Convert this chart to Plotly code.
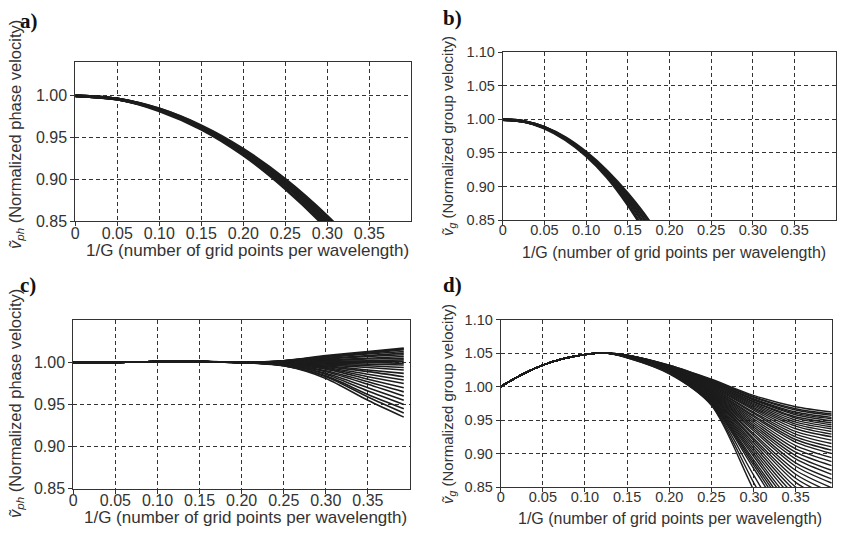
import plotly.graph_objects as go

W, H = 853, 535
# the page body keeps an 8px margin, so the figure is drawn 8px in from the corner
OFF = 8
FW, FH = W - 2 * OFF, H - 2 * OFF

# ---- data ----
X_TICKS = [0, 0.05, 0.10, 0.15, 0.20, 0.25, 0.30, 0.35]
X_TICK_TEXT = ["0", "0.05", "0.10", "0.15", "0.20", "0.25", "0.30", "0.35"]
Y_TICKS_PH = [0.85, 0.90, 0.95, 1.00]
Y_TICK_TEXT_PH = ["0.85", "0.90", "0.95", "1.00"]
Y_TICKS_G = [0.85, 0.90, 0.95, 1.00, 1.05, 1.10]
Y_TICK_TEXT_G = ["0.85", "0.90", "0.95", "1.00", "1.05", "1.10"]

# a) phase velocity, bundle of curves
A_X = [0, 0.05, 0.10, 0.15, 0.20, 0.25, 0.30, 0.35]
A_CURVES = [
    [1.000, 0.996, 0.984, 0.964, 0.936, 0.900, 0.856, 0.804],
    [1.000, 0.996, 0.984, 0.963, 0.934, 0.898, 0.852, 0.799],
    [1.000, 0.996, 0.983, 0.962, 0.933, 0.895, 0.849, 0.794],
    [1.000, 0.996, 0.983, 0.961, 0.931, 0.893, 0.845, 0.789],
    [1.000, 0.996, 0.982, 0.960, 0.929, 0.889, 0.841, 0.783],
]

# b) group velocity
B_X = [0, 0.025, 0.05, 0.075, 0.10, 0.125, 0.15, 0.175, 0.20]
B_CURVES = [
    [1.000, 0.997, 0.988, 0.973, 0.951, 0.923, 0.889, 0.849, 0.800],
    [1.000, 0.997, 0.988, 0.972, 0.949, 0.920, 0.884, 0.842, 0.792],
    [1.000, 0.997, 0.988, 0.971, 0.948, 0.917, 0.879, 0.834, 0.785],
    [1.000, 0.997, 0.987, 0.970, 0.946, 0.914, 0.873, 0.825, 0.776],
]

# c) phase velocity, optimized scheme
C_HEAD_X = [0, 0.05, 0.10, 0.15]
C_HEAD_Y = [1.000, 1.000, 1.001, 1.001]
C_TAIL_X = [0.20, 0.25, 0.30, 0.35, 0.3926]
C_TAILS = [
    [1.000, 1.002, 1.008, 1.013, 1.017],
    [1.000, 1.002, 1.007, 1.012, 1.016],
    [1.000, 1.002, 1.007, 1.011, 1.015],
    [1.000, 1.002, 1.006, 1.010, 1.013],
    [1.000, 1.001, 1.005, 1.008, 1.011],
    [1.000, 1.001, 1.004, 1.007, 1.009],
    [1.000, 1.001, 1.003, 1.005, 1.007],
    [1.000, 1.001, 1.002, 1.004, 1.005],
    [1.000, 1.000, 1.001, 1.002, 1.003],
    [1.000, 1.000, 1.001, 1.001, 1.001],
    [1.000, 1.000, 1.000, 1.000, 0.999],
    [1.000, 1.000, 0.999, 0.998, 0.997],
    [1.000, 1.000, 0.998, 0.996, 0.994],
    [1.000, 0.999, 0.997, 0.994, 0.991],
    [1.000, 0.999, 0.996, 0.991, 0.987],
    [1.000, 0.999, 0.995, 0.989, 0.983],
    [1.000, 0.999, 0.994, 0.986, 0.979],
    [1.000, 0.998, 0.993, 0.983, 0.975],
    [1.000, 0.998, 0.992, 0.980, 0.970],
    [1.000, 0.998, 0.990, 0.977, 0.965],
    [1.000, 0.997, 0.989, 0.974, 0.960],
    [1.000, 0.997, 0.987, 0.970, 0.955],
    [1.000, 0.997, 0.986, 0.966, 0.950],
    [1.000, 0.996, 0.984, 0.962, 0.945],
    [1.000, 0.996, 0.983, 0.959, 0.940],
    [1.000, 0.996, 0.981, 0.955, 0.935],
]

# d) group velocity, optimized scheme
D_HEAD_X = [0, 0.025, 0.05, 0.075, 0.10, 0.125]
D_HEAD_Y = [1.000, 1.018, 1.032, 1.042, 1.048, 1.050]
D_TAIL_X = [0.15, 0.20, 0.25, 0.30, 0.35, 0.3926]
D_TAILS = [
    [1.047, 1.032, 1.011, 0.987, 0.970, 0.962],
    [1.047, 1.032, 1.010, 0.985, 0.967, 0.959],
    [1.047, 1.031, 1.009, 0.984, 0.965, 0.957],
    [1.047, 1.031, 1.008, 0.982, 0.962, 0.954],
    [1.047, 1.031, 1.008, 0.981, 0.960, 0.952],
    [1.047, 1.030, 1.007, 0.980, 0.958, 0.949],
    [1.047, 1.030, 1.006, 0.978, 0.955, 0.946],
    [1.046, 1.030, 1.006, 0.977, 0.953, 0.943],
    [1.046, 1.030, 1.005, 0.975, 0.950, 0.940],
    [1.046, 1.029, 1.004, 0.973, 0.947, 0.937],
    [1.046, 1.029, 1.003, 0.971, 0.944, 0.933],
    [1.046, 1.029, 1.002, 0.969, 0.941, 0.929],
    [1.046, 1.029, 1.001, 0.967, 0.937, 0.925],
    [1.046, 1.028, 1.000, 0.965, 0.933, 0.920],
    [1.046, 1.028, 0.999, 0.962, 0.929, 0.915],
    [1.046, 1.028, 0.998, 0.960, 0.925, 0.910],
    [1.046, 1.028, 0.997, 0.957, 0.921, 0.905],
    [1.046, 1.027, 0.996, 0.955, 0.917, 0.900],
    [1.046, 1.027, 0.995, 0.952, 0.912, 0.894],
    [1.045, 1.027, 0.994, 0.949, 0.907, 0.888],
    [1.045, 1.027, 0.993, 0.946, 0.902, 0.882],
    [1.045, 1.026, 0.992, 0.943, 0.897, 0.875],
    [1.045, 1.026, 0.991, 0.940, 0.892, 0.869],
    [1.045, 1.026, 0.990, 0.937, 0.886, 0.862],
    [1.045, 1.026, 0.989, 0.934, 0.881, 0.856],
    [1.045, 1.025, 0.988, 0.930, 0.875, 0.849],
    [1.045, 1.025, 0.987, 0.927, 0.869, 0.842],
    [1.045, 1.025, 0.986, 0.923, 0.863, 0.835],
    [1.045, 1.025, 0.985, 0.920, 0.857, 0.828],
    [1.045, 1.024, 0.984, 0.916, 0.850, 0.820],
    [1.045, 1.024, 0.983, 0.912, 0.844, 0.812],
    [1.044, 1.024, 0.982, 0.908, 0.837, 0.803],
    [1.044, 1.024, 0.981, 0.904, 0.830, 0.795],
    [1.044, 1.023, 0.980, 0.900, 0.822, 0.786],
    [1.044, 1.023, 0.979, 0.896, 0.815, 0.776],
    [1.044, 1.022, 0.978, 0.891, 0.807, 0.766],
    [1.044, 1.022, 0.977, 0.887, 0.800, 0.756],
    [1.044, 1.022, 0.976, 0.883, 0.792, 0.745],
    [1.044, 1.022, 0.975, 0.878, 0.784, 0.735],
    [1.044, 1.021, 0.974, 0.868, 0.766, 0.712],
    [1.043, 1.020, 0.973, 0.857, 0.747, 0.688],
    [1.043, 1.019, 0.972, 0.846, 0.727, 0.662],
]

LINE = "#1c1c1c"
FONT = "Liberation Sans, Arial, Helvetica, sans-serif"


def fx(p):
    return (p - OFF) / FW


def fy(p):
    return 1 - (p - OFF) / FH


fig = go.Figure()


def add_lines(xs, curves, ax, width):
    for ys in curves:
        fig.add_trace(go.Scatter(
            x=xs, y=ys, mode="lines", xaxis=ax[0], yaxis=ax[1],
            line=dict(color=LINE, width=width, shape="spline", smoothing=0.8),
            showlegend=False, hoverinfo="skip"))


add_lines(A_X, A_CURVES, ("x", "y"), 3)
add_lines(B_X, B_CURVES, ("x2", "y2"), 3)
add_lines(C_HEAD_X + C_TAIL_X, [C_HEAD_Y + t for t in C_TAILS], ("x3", "y3"), 1.6)
add_lines(D_HEAD_X + D_TAIL_X, [D_HEAD_Y + t for t in D_TAILS], ("x4", "y4"), 1.4)


def axis_style(size):
    return dict(ticks="outside", ticklen=4, tickcolor="#333",
                tickfont=dict(family=FONT, size=size, color="#333"),
                showgrid=True, gridcolor="#333", gridwidth=1, griddash="4px,3px",
                showline=True, linecolor="#333", linewidth=1, mirror=True,
                zeroline=False, automargin=False)


def xaxis(x0, x1, anchor, rng, size):
    return dict(domain=[fx(x0), fx(x1)], anchor=anchor, range=rng,
                tickvals=X_TICKS, ticktext=X_TICK_TEXT, ticklabelstandoff=-7,
                **axis_style(size))


def yaxis(top, bottom, anchor, rng, vals, text, size):
    return dict(domain=[fy(bottom), fy(top)], anchor=anchor, range=rng,
                tickvals=vals, ticktext=text, **axis_style(size))


fig.update_layout(
    width=FW, height=FH,
    margin=dict(l=0, r=0, t=0, b=0),
    paper_bgcolor="white", plot_bgcolor="white",
    xaxis=xaxis(75.3, 411.3, "y", [0, 0.4], 16),
    yaxis=yaxis(62.3, 221.3, "x", [0.85, 1.0398], Y_TICKS_PH, Y_TICK_TEXT_PH, 16),
    xaxis2=xaxis(502.7, 836.3, "y2", [0, 0.4], 14.5),
    yaxis2=yaxis(52.3, 220, "x2", [0.85, 1.10], Y_TICKS_G, Y_TICK_TEXT_G, 14.5),
    xaxis3=xaxis(73.3, 410, "y3", [0, 0.4], 16),
    yaxis3=yaxis(320.3, 488.7, "x3", [0.85, 1.05], Y_TICKS_PH, Y_TICK_TEXT_PH, 16),
    xaxis4=xaxis(500.7, 832.3, "y4", [0, 0.3935], 14.5),
    yaxis4=yaxis(319.7, 487, "x4", [0.85, 1.10], Y_TICKS_G, Y_TICK_TEXT_G, 14.5),
)

# panel letters, axis titles
X_TITLE = "1/G (number of grid points per wavelength)"
Y_TITLE_PH = "<i>ṽ<sub>ph</sub></i> (Normalized phase velocity)"
Y_TITLE_G = "<i>ṽ<sub>g</sub></i> (Normalized group velocity)"

texts = [
    # (text, x px, y px, angle, size, bold serif)
    ("a)", 29, 21, 0, 21, True),
    ("b)", 453, 18, 0, 21, True),
    ("c)", 28, 285, 0, 21, True),
    ("d)", 453, 285, 0, 21, True),
    (X_TITLE, 247, 250, 0, 17, False),
    (X_TITLE, 674, 252, 0, 16, False),
    (X_TITLE, 245, 517, 0, 17, False),
    (X_TITLE, 670, 518, 0, 16, False),
    (Y_TITLE_PH, 16, 135, -90, 16.5, False),
    (Y_TITLE_G, 448, 136, -90, 15, False),
    (Y_TITLE_PH, 16, 404, -90, 16.5, False),
    (Y_TITLE_G, 448, 404, -90, 15, False),
]
for txt, x, y, ang, size, serif in texts:
    fig.add_annotation(
        text=f"<b>{txt}</b>" if serif else txt,
        xref="paper", yref="paper", x=fx(x), y=fy(y),
        xanchor="center", yanchor="middle", showarrow=False, textangle=ang,
        font=dict(family="Liberation Serif, Times New Roman, serif" if serif else FONT,
                  size=size, color="#111" if serif else "#333"))

fig.write_html("out.html")
